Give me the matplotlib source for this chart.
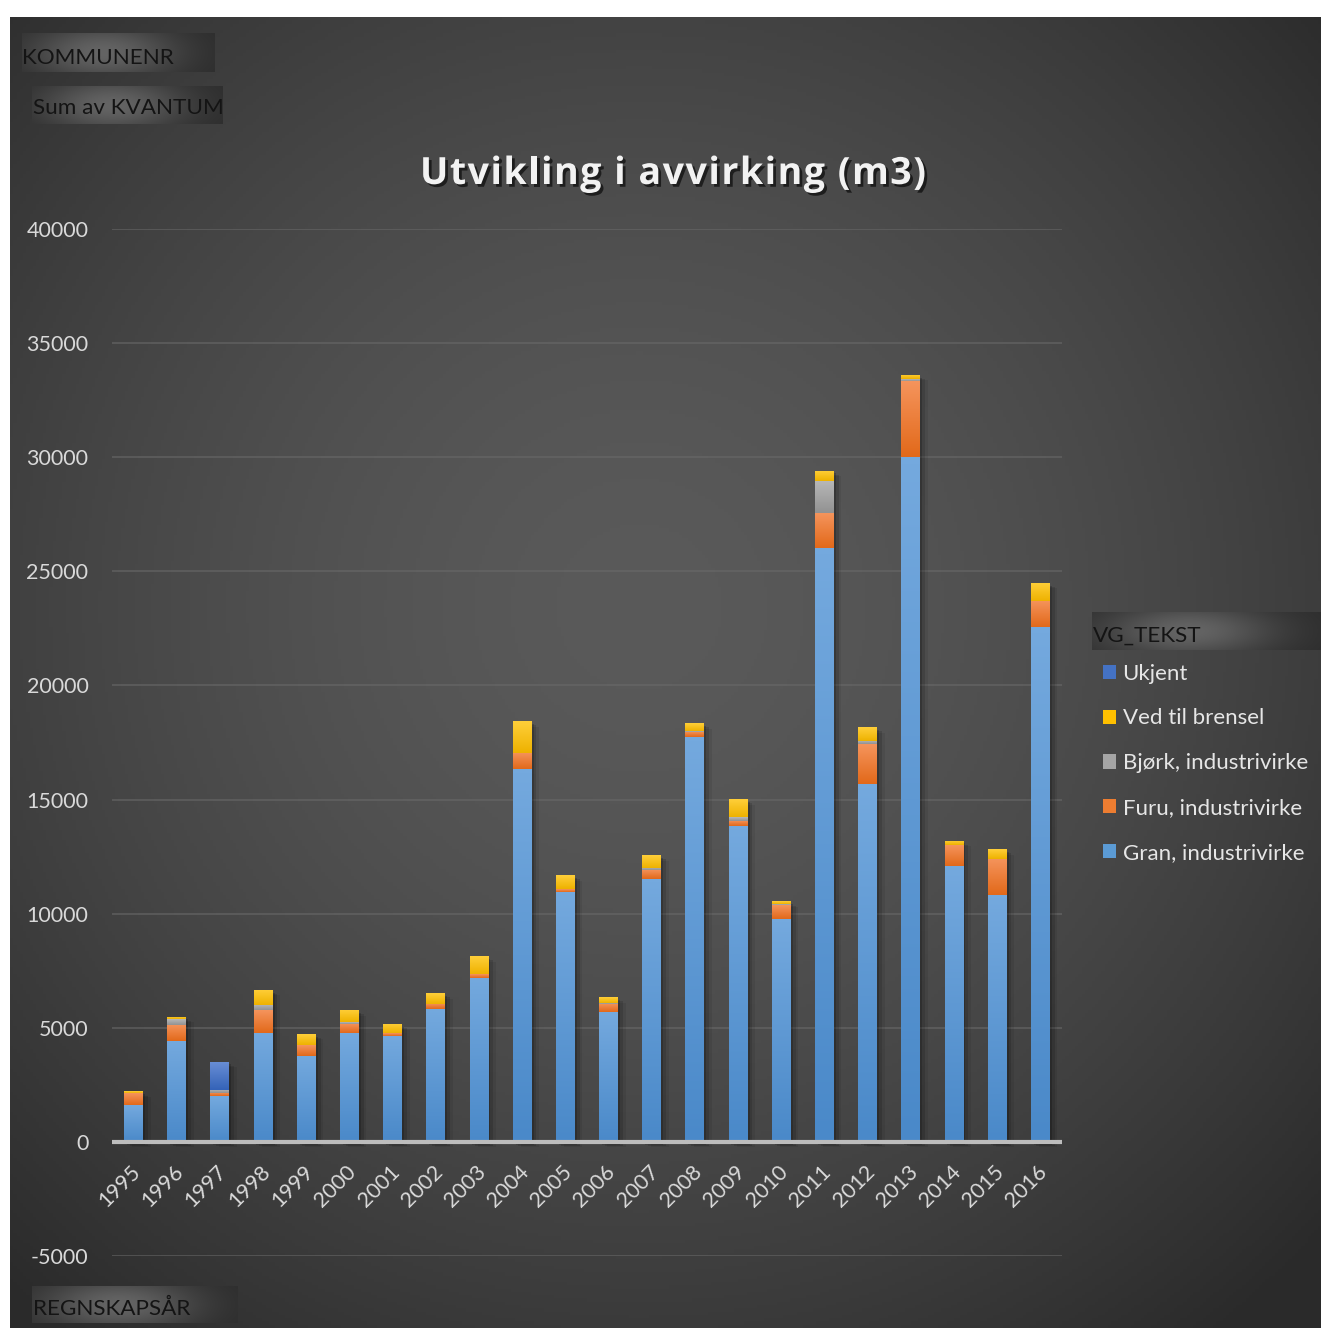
import numpy as np
import matplotlib.pyplot as plt
from matplotlib import patheffects as pe
from matplotlib.colors import LinearSegmentedColormap
from matplotlib.transforms import ScaledTranslation
from matplotlib.patches import Patch
from matplotlib.font_manager import FontProperties

# ---------------- data ----------------
years = [str(y) for y in range(1995, 2017)]
gran  = [1620, 4400, 1990, 4790, 3770, 4760, 4660, 5830, 7200, 16340, 10970, 5670,
         11520, 17760, 13860, 9770, 26040, 15670, 30020, 12100, 10820, 22550]
furu  = [510, 730, 150, 990, 480, 420, 100, 220, 160, 710, 130, 360,
         410, 220, 220, 610, 1500, 1750, 3330, 910, 1580, 1160]
bjork = [0, 260, 140, 220, 0, 60, 0, 0, 0, 0, 0, 50,
         90, 30, 170, 40, 1420, 150, 60, 0, 0, 0]
ved   = [80, 100, 0, 660, 480, 540, 400, 470, 780, 1380, 590, 260,
         540, 340, 760, 120, 450, 600, 200, 190, 420, 790]
ukjent = [0, 0, 1240, 0, 0, 0, 0, 0, 0, 0, 0, 0,
          0, 0, 0, 0, 0, 0, 0, 0, 0, 0]
series_names = ["Gran, industrivirke", "Furu, industrivirke", "Bjørk, industrivirke",
                "Ved til brensel", "Ukjent"]
series_vals = [gran, furu, bjork, ved, ukjent]
colors = ["#5B9BD5", "#ED7D31", "#A5A5A5", "#FFC000", "#4472C4"]
grad = [("#74a9de", "#4a89c9"), ("#f5945c", "#e2691a"), ("#b8b8b8", "#929292"),
        ("#ffcf3a", "#eeb200"), ("#6a8fd6", "#3463b8")]
yticks = list(range(-5000, 40001, 5000))
title = "Utvikling i avvirking (m3)"

W, H = 1321, 1328
plt.rcParams['font.family'] = ['Lato', 'DejaVu Sans']
fig = plt.figure(figsize=(W / 100, H / 100), dpi=100)
fig.patch.set_facecolor('white')

def fx(px):
    return px / W

def fy(py):
    return 1 - py / H

# ---------------- background ----------------
bg = fig.add_axes([fx(10), 0, fx(W - 10), (H - 17) / H], zorder=-10)
yy, xx = np.mgrid[0:1:400j, 0:1:400j]
r = np.sqrt(((xx - 0.48) / 0.62) ** 2 + ((yy - 0.45) / 0.62) ** 2)
val = 0x5a - (0x5a - 0x2a) * np.clip(r, 0, 1.15) ** 1.6 / 1.15 ** 1.6
img = np.dstack([val, val, val]) / 255.0
bg.imshow(img, aspect='auto', extent=[0, 1, 0, 1], origin='upper')
bg.set_axis_off()

# ---------------- main axes ----------------
ax = fig.add_axes([fx(112), fy(1256), fx(1062 - 112), (1256 - 229) / H])
ax.patch.set_alpha(0)
x = np.arange(len(years))
bottom = np.zeros(len(years))
for name, vals, c, (ctop, cbot) in zip(series_names, series_vals, colors, grad):
    vals = np.array(vals, dtype=float)
    bc = ax.bar(x, vals, width=0.42, bottom=bottom, color=c, label=name, zorder=3,
                linewidth=0)
    cmap = LinearSegmentedColormap.from_list(name, [cbot, ctop])
    gimg = np.linspace(1, 0, 64).reshape(-1, 1)
    for p in bc.patches:
        if p.get_height() <= 0:
            continue
        x0, y0 = p.get_x(), p.get_y()
        im = ax.imshow(gimg, cmap=cmap, aspect='auto',
                       extent=[x0, x0 + p.get_width(), y0, y0 + p.get_height()],
                       origin='upper', zorder=4, interpolation='bilinear')
        im.set_clip_path(p)
    bottom += vals

# soft shadows behind full stacks
total = bottom
for off, a in [((2, -2), 0.18), ((4, -3), 0.12), ((6, -4), 0.07)]:
    ax.bar(x, total, width=0.42, color='black', alpha=0.0, zorder=2,
           path_effects=[pe.SimplePatchShadow(offset=off, shadow_rgbFace='black', alpha=a)])

ax.set_xlim(-0.49, 21.51)
ax.set_ylim(-5000, 40000)
ax.set_yticks(yticks)
ax.set_yticklabels([str(v) for v in yticks])
ax.set_xticks(x)
ax.set_xticklabels([])
ax.tick_params(axis='both', length=0, colors='#d9d9d9', labelsize=15.5)
ax.tick_params(axis='y', pad=17)
for s in ax.spines.values():
    s.set_visible(False)
ax.grid(axis='y', color='#6a6a6a', linewidth=1.3, alpha=0.6, zorder=0)
ax.axhline(0, color='#bdbdbd', linewidth=3, zorder=5)
ax.set_axisbelow(True)

for xi, yl in zip(x, years):
    ax.text(xi, 0, yl, rotation=45, ha='right', va='top', rotation_mode='anchor',
            color='#d9d9d9', fontsize=15.5,
            transform=ax.transData + ScaledTranslation(-3 / 100, -20 / 100, fig.dpi_scale_trans))

# ---------------- title (letter-spaced) ----------------
tprop = FontProperties(family=['Open Sans', 'DejaVu Sans'], weight='bold', size=27)
renderer = fig.canvas.get_renderer()

def text_w(s):
    w, _, _ = renderer.get_text_width_height_descent(s + "|", tprop, ismath=False)
    w0, _, _ = renderer.get_text_width_height_descent("|", tprop, ismath=False)
    return w - w0

target_left, target_right = 420, 926
full_w = text_w(title)
last_w = text_w(title[-1])
n = len(title) - 1
spacing = ((target_right - target_left) - full_w) / n
for i, ch in enumerate(title):
    px = target_left + text_w(title[:i]) + i * spacing
    fig.text(fx(px), fy(174), ch, ha='left', va='center', fontproperties=tprop,
             color='#f2f2f2',
             path_effects=[pe.withSimplePatchShadow(offset=(2, -2), shadow_rgbFace='black', alpha=0.6)])

# ---------------- field buttons ----------------
def button(x0, y0, x1, y1, text, tx, ty):
    bax = fig.add_axes([fx(x0), fy(y1), fx(x1 - x0), (y1 - y0) / H], zorder=5)
    gy, gx = np.mgrid[0:1:40j, 0:1:200j]
    v = 0x2c + (0x64 - 0x2c) * np.exp(-((gx - 0.42) / 0.38) ** 2) * np.exp(-((gy - 0.5) / 0.75) ** 2)
    bax.imshow(np.dstack([v, v, v]) / 255.0, aspect='auto', extent=[0, 1, 0, 1])
    bax.set_axis_off()
    fig.text(fx(tx), fy(ty), text, ha='left', va='center', fontsize=16.2,
             color='#141414', zorder=6)

button(22, 33, 215, 72, "KOMMUNENR", 22, 58)
button(32, 86, 223, 124, "Sum av KVANTUM", 33, 108)
button(32, 1286, 238, 1323, "REGNSKAPSÅR", 33, 1309)
button(1092, 612, 1321, 650, "VG_TEKST", 1093, 636)

# ---------------- legend ----------------
handles = [Patch(facecolor=c, edgecolor='none') for c in colors][::-1]
labels = series_names[::-1]
fig.legend(handles, labels, loc='upper left', bbox_to_anchor=(fx(1087), fy(648)),
           frameon=False, fontsize=16, labelcolor='#e6e6e6', handlelength=0.6,
           handleheight=0.6, handletextpad=0.3, labelspacing=1.12, borderpad=0.2)

fig.savefig("out.png", dpi=100, facecolor=fig.get_facecolor())
